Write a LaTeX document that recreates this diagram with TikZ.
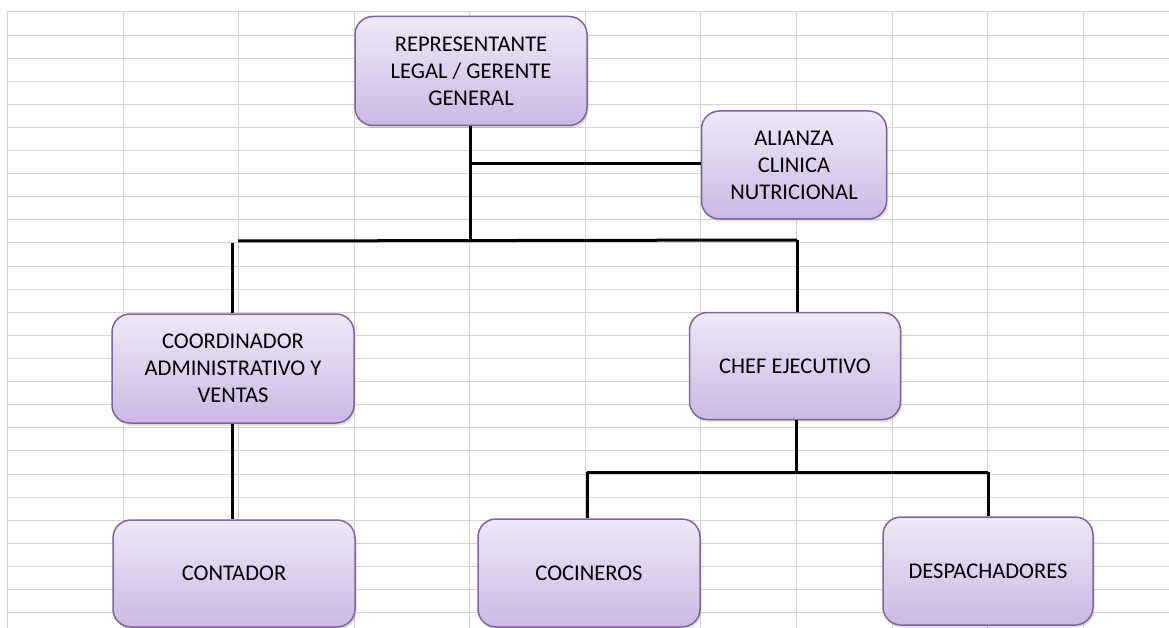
\documentclass[tikz,border=0pt]{standalone}
\usepackage{fontspec}
\setmainfont{Carlito}
\usetikzlibrary{shadows}
\definecolor{gridgray}{HTML}{D4D4D4}
\definecolor{boxtop}{HTML}{EEE8F6}
\definecolor{boxbot}{HTML}{CBB9E5}
\definecolor{boxedge}{HTML}{8064A2}
\tikzset{
  orgbox/.style={draw=boxedge, line width=1.5pt, rounded corners=18pt,
    top color=boxtop, bottom color=boxbot, align=center,
    font=\fontsize{22.5pt}{27pt}\selectfont, text=black, inner sep=0pt,
    drop shadow={opacity=0.25, shadow xshift=1.5pt, shadow yshift=-2.5pt}},
  link/.style={draw=black, line width=3pt},
  gridline/.style={draw=gridgray, line width=1pt}
}
\begin{document}
\begin{tikzpicture}[x=1pt, y=-1pt]
\useasboundingbox (0,0) rectangle (1169,628);
\fill[white] (0,0) rectangle (1169,628);
% spreadsheet grid
\foreach \k in {0,...,26} {
  \draw[gridline] (7,{12+23.1*\k}) -- (1169,{12+23.1*\k});
}
\foreach \xx in {7,123,238.5,354,469.5,585,700.5,796.5,892,987.5,1083} {
  \draw[gridline] (\xx,12) -- (\xx,628);
}
% boxes
\node[orgbox, minimum width=232pt, minimum height=109pt] (rep) at (471,71)
  {REPRESENTANTE\\LEGAL / GERENTE\\GENERAL};
\node[orgbox, minimum width=185pt, minimum height=108pt] (ali) at (794,165)
  {ALIANZA\\CLINICA\\NUTRICIONAL};
\node[orgbox, minimum width=242pt, minimum height=109pt] (coord) at (233,368.5)
  {COORDINADOR\\ADMINISTRATIVO Y\\VENTAS};
\node[orgbox, minimum width=211pt, minimum height=107pt] (chef) at (795,366)
  {CHEF EJECUTIVO};
\node[orgbox, minimum width=242pt, minimum height=107pt] (cont) at (234,573.5)
  {\raisebox{-4pt}{CONTADOR}};
\node[orgbox, minimum width=222pt, minimum height=108pt] (coc) at (589,573)
  {\raisebox{-2pt}{COCINEROS}};
\node[orgbox, minimum width=210pt, minimum height=108pt] (desp) at (988,571)
  {\raisebox{-2pt}{DESPACHADORES}};
% junction points
\coordinate (j1) at (470,241);
\coordinate (hl) at (238,241);
\coordinate (hr) at (797,240);
\coordinate (vl) at (232,243);
\coordinate (aj) at (470,164);
\coordinate (j2) at (796,472);
\coordinate (hl2) at (587,472);
\coordinate (hr2) at (988,472);
% connectors
\draw[link] (rep.south -| j1) -- (j1);
\draw[link] (aj) -- (aj -| ali.west);
\draw[link] (hl) -- (hr);
\draw[link] (vl) -- (vl |- coord.north);
\draw[link] (hr) -- (hr |- chef.north);
\draw[link] (coord.south -| vl) -- (vl |- cont.north);
\draw[link] (chef.south -| j2) -- (j2);
\draw[link] (hl2) -- (hr2);
\draw[link] (hl2) -- (hl2 |- coc.north);
\draw[link] (hr2) -- (hr2 |- desp.north);
\end{tikzpicture}
\end{document}
